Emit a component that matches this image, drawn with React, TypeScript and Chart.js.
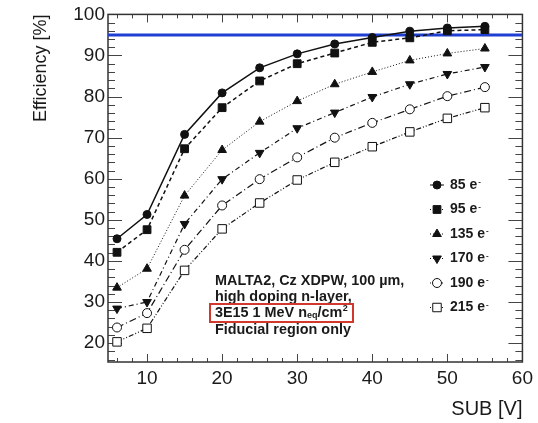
import React, { useEffect, useRef } from 'react';
import { Chart, registerables } from 'chart.js';

Chart.register(...registerables);

// ---- data ----
const subVoltage = [6, 10, 15, 20, 25, 30, 35, 40, 45, 50, 55];
const eff85 = [45.4, 51.3, 70.8, 80.9, 87.0, 90.4, 92.8, 94.4, 95.9, 96.7, 97.1];
const eff95 = [42.1, 47.6, 67.3, 77.3, 83.8, 88.0, 90.6, 93.2, 94.3, 96.0, 96.3];
const eff135 = [33.5, 38.1, 55.9, 67.0, 73.9, 78.9, 83.0, 86.0, 88.8, 90.5, 91.7];
const eff170 = [28.4, 30.0, 49.0, 59.9, 66.3, 72.3, 76.1, 79.9, 83.0, 85.5, 87.2];
const eff190 = [23.8, 27.3, 42.7, 53.5, 59.9, 65.2, 70.0, 73.6, 76.9, 80.1, 82.3];
const eff215 = [20.3, 23.6, 37.7, 47.8, 54.1, 59.7, 64.0, 67.8, 71.4, 74.7, 77.3];
const seriesLabels = ['85 e', '95 e', '135 e', '170 e', '190 e', '215 e'];
const thresholdEfficiency = 95;
const xRange = [4.8, 60];
const yRange = [15.4, 100];
const infoLines = ['MALTA2, Cz XDPW, 100 µm,', 'high doping n-layer,', '3E15 1 MeV n', 'Fiducial region only'];

const seriesValues = [eff85, eff95, eff135, eff170, eff190, eff215];

type Sty = { dash: number[]; width: number; point: string; r: number; fill: string; rot: number };
const styles: Sty[] = [
  { dash: [], width: 1.5, point: 'circle', r: 4, fill: '#111', rot: 0 },
  { dash: [4, 3], width: 1.5, point: 'rect', r: 5.5, fill: '#111', rot: 0 },
  { dash: [1, 2], width: 1, point: 'triangle', r: 5, fill: '#111', rot: 0 },
  { dash: [5, 3, 1, 3], width: 1.2, point: 'triangle', r: 5, fill: '#111', rot: 180 },
  { dash: [7, 3, 1, 3], width: 1.2, point: 'circle', r: 4.5, fill: '#fff', rot: 0 },
  { dash: [5, 2, 1, 2, 1, 2], width: 1.2, point: 'rect', r: 6, fill: '#fff', rot: 0 },
];

const FONT = '"Liberation Sans", Arial, Helvetica, sans-serif';
const INK = '#1a1a1a';
const INFO_SIZE = 14.4;

function drawMarker(ctx: CanvasRenderingContext2D, s: Sty, x: number, y: number) {
  ctx.save();
  ctx.setLineDash([]);
  ctx.fillStyle = s.fill;
  ctx.strokeStyle = '#111';
  ctx.lineWidth = 1;
  ctx.beginPath();
  if (s.point === 'circle') {
    ctx.arc(x, y, s.r, 0, Math.PI * 2);
  } else if (s.point === 'rect') {
    const h = Math.SQRT1_2 * s.r;
    ctx.rect(x - h, y - h, 2 * h, 2 * h);
  } else {
    let rad = (s.rot * Math.PI) / 180;
    ctx.moveTo(x + Math.sin(rad) * s.r, y - Math.cos(rad) * s.r);
    rad += (2 * Math.PI) / 3;
    ctx.lineTo(x + Math.sin(rad) * s.r, y - Math.cos(rad) * s.r);
    rad += (2 * Math.PI) / 3;
    ctx.lineTo(x + Math.sin(rad) * s.r, y - Math.cos(rad) * s.r);
    ctx.closePath();
  }
  ctx.fill();
  ctx.stroke();
  ctx.restore();
}

const framePlugin = {
  id: 'rootFrame',
  beforeDatasetsDraw(chart: any) {
    const { ctx, chartArea: a, scales } = chart;
    const xs = scales.x;
    const ys = scales.y;
    ctx.save();
    ctx.strokeStyle = '#444';
    ctx.lineWidth = 1;
    for (let v = 6; v <= 60; v += 2) {
      const px = Math.round(xs.getPixelForValue(v)) + 0.5;
      const len = v % 10 === 0 ? 8 : 4;
      ctx.beginPath();
      ctx.moveTo(px, a.bottom);
      ctx.lineTo(px, a.bottom - len);
      ctx.moveTo(px, a.top);
      ctx.lineTo(px, a.top + len);
      ctx.stroke();
    }
    for (let v = 16; v <= 100; v += 2) {
      const py = Math.round(ys.getPixelForValue(v)) + 0.5;
      const len = v % 10 === 0 ? 14 : 7;
      ctx.beginPath();
      ctx.moveTo(a.left, py);
      ctx.lineTo(a.left + len, py);
      ctx.moveTo(a.right, py);
      ctx.lineTo(a.right - len, py);
      ctx.stroke();
    }
    ctx.strokeStyle = '#333';
    ctx.lineWidth = 1.5;
    ctx.strokeRect(a.left, a.top, a.right - a.left, a.bottom - a.top);
    ctx.restore();
  },
  afterDraw(chart: any) {
    const { ctx } = chart;
    ctx.save();
    // legend
    const lx = 437;
    let ly = 185;
    ctx.textBaseline = 'middle';
    ctx.textAlign = 'left';
    seriesLabels.forEach((lab, i) => {
      const s = styles[i];
      ctx.save();
      ctx.strokeStyle = '#111';
      ctx.lineWidth = 1;
      ctx.setLineDash(s.dash.length ? [1, 2] : []);
      ctx.beginPath();
      ctx.moveTo(lx - 7, ly);
      ctx.lineTo(lx + 7, ly);
      ctx.stroke();
      ctx.restore();
      drawMarker(ctx, s, lx, ly);
      ctx.font = `bold 14px ${FONT}`;
      ctx.fillStyle = INK;
      ctx.fillText(lab, 450, ly);
      const w = ctx.measureText(lab).width;
      ctx.font = `bold 8px ${FONT}`;
      ctx.fillText('-', 450 + w + 1, ly - 3);
      ly += 24.5;
    });

    // info text
    const tx = 215;
    const ty = [281, 297, 313, 330];
    ctx.font = `bold ${INFO_SIZE}px ${FONT}`;
    ctx.fillStyle = INK;
    ctx.fillText(infoLines[0], tx, ty[0]);
    ctx.fillText(infoLines[1], tx, ty[1]);
    ctx.fillText(infoLines[3], tx, ty[3]);
    let cx = tx;
    ctx.fillText(infoLines[2], cx, ty[2]);
    cx += ctx.measureText(infoLines[2]).width;
    ctx.font = `bold 9px ${FONT}`;
    ctx.fillText('eq', cx, ty[2] + 2.5);
    cx += ctx.measureText('eq').width;
    ctx.font = `bold ${INFO_SIZE}px ${FONT}`;
    ctx.fillText('/cm', cx, ty[2]);
    cx += ctx.measureText('/cm').width;
    ctx.font = `bold 9px ${FONT}`;
    ctx.fillText('2', cx + 0.5, ty[2] - 4);
    ctx.strokeStyle = '#d0392b';
    ctx.lineWidth = 2;
    ctx.strokeRect(210, 304, 143, 18);
    ctx.restore();
  },
};

export default function App() {
  const ref = useRef<HTMLCanvasElement | null>(null);
  useEffect(() => {
    if (!ref.current) return;
    const datasets: any[] = seriesValues.map((vals, i) => {
      const s = styles[i];
      return {
        label: seriesLabels[i],
        data: subVoltage.map((x, j) => ({ x, y: vals[j] })),
        borderColor: '#111',
        borderWidth: s.width,
        borderDash: s.dash,
        backgroundColor: s.fill,
        pointStyle: s.point,
        pointRadius: s.r,
        pointRotation: s.rot,
        pointBorderColor: '#111',
        pointBackgroundColor: s.fill,
        pointBorderWidth: 1,
        tension: 0,
        fill: false,
      };
    });
    datasets.push({
      label: 'threshold',
      data: [
        { x: xRange[0], y: thresholdEfficiency },
        { x: xRange[1], y: thresholdEfficiency },
      ],
      borderColor: '#1f3fd2',
      borderWidth: 3,
      pointRadius: 0,
      fill: false,
    });
    const chart = new Chart(ref.current, {
      type: 'line',
      data: { datasets },
      plugins: [framePlugin],
      options: {
        animation: false,
        responsive: false,
        maintainAspectRatio: false,
        layout: { padding: { left: 0, top: 13, right: 13, bottom: 0 } },
        plugins: { legend: { display: false }, tooltip: { enabled: false } },
        scales: {
          x: {
            type: 'linear',
            min: xRange[0],
            max: xRange[1],
            grid: { display: false, drawTicks: false },
            border: { display: false },
            ticks: {
              stepSize: 10,
              includeBounds: false,
              padding: 5,
              color: INK,
              font: { family: FONT, size: 19 },
              maxRotation: 0,
            },
            title: {
              display: true,
              text: 'SUB [V]',
              align: 'end',
              color: INK,
              font: { family: FONT, size: 20 },
              padding: { top: 0, bottom: 2 },
            },
            afterFit: (s: any) => {
              s.height = 61;
            },
          },
          y: {
            type: 'linear',
            min: yRange[0],
            max: yRange[1],
            grid: { display: false, drawTicks: false },
            border: { display: false },
            ticks: {
              stepSize: 10,
              includeBounds: false,
              padding: 3,
              color: INK,
              font: { family: FONT, size: 19 },
            },
            title: {
              display: true,
              text: 'Efficiency [%]',
              align: 'end',
              color: INK,
              font: { family: FONT, size: 18 },
              padding: { top: 30, bottom: 0 },
            },
            afterFit: (s: any) => {
              s.width = 108;
            },
          },
        },
      },
    });
    return () => chart.destroy();
  }, []);
  return (
    <div style={{ position: 'fixed', left: 0, top: 0, width: 538, height: 423, background: '#fff' }}>
      <canvas ref={ref} width={538} height={423} style={{ width: 538, height: 423 }} />
    </div>
  );
}
